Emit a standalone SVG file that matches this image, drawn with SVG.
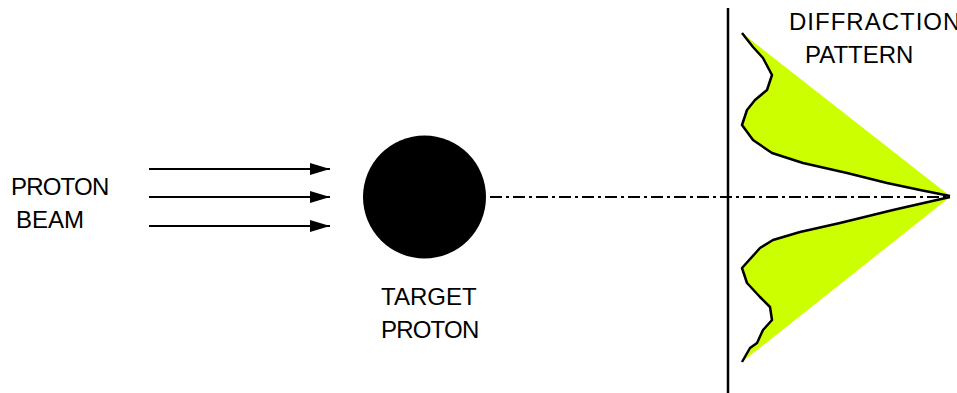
<svg xmlns="http://www.w3.org/2000/svg" width="957" height="393" viewBox="0 0 957 393">
  <defs>
    <marker id="head" viewBox="0 0 20 12" refX="20" refY="6" markerWidth="20" markerHeight="12" markerUnits="userSpaceOnUse" orient="auto">
      <path d="M0,0 L20,6 L0,12 Z" fill="#000"/>
    </marker>
    <style>
      .lbl { font-family: "Liberation Sans", Arial, sans-serif; font-size: 24px; fill: #000; }
      .tight { letter-spacing: -0.8px; }
      .wide { letter-spacing: 1px; }
      .beam { stroke: #000; stroke-width: 2; fill: none; marker-end: url(#head); }
      .lobe { fill: #ccff00; stroke: none; }
      .edge { fill: none; stroke: #000; stroke-width: 2.5; stroke-linejoin: round; }
    </style>
  </defs>
  <rect width="957" height="393" fill="#fff"/>

  <!-- incoming beam -->
  <g id="beam">
    <text class="lbl tight" x="11" y="195">PROTON</text>
    <text class="lbl" x="16" y="228">BEAM</text>
  </g>

  <g id="connectors">
    <line class="beam" x1="149" y1="169" x2="330" y2="169"/>
    <line class="beam" x1="149" y1="197" x2="330" y2="197"/>
    <line class="beam" x1="149" y1="226" x2="330" y2="226"/>
    <!-- beam axis -->
    <line x1="490" y1="197" x2="950" y2="197" stroke="#000" stroke-width="2" stroke-dasharray="12,4,3,4"/>
  </g>

  <!-- target -->
  <g id="target">
    <circle cx="424.5" cy="197" r="61.5" fill="#000"/>
    <text class="lbl" x="381" y="305">TARGET</text>
    <text class="lbl tight" x="381" y="338">PROTON</text>
  </g>

  <!-- screen and pattern -->
  <g id="screen">
    <line x1="728" y1="8" x2="728" y2="393" stroke="#000" stroke-width="2.5"/>
  </g>

  <g id="pattern">
    <path class="lobe" d="M742,33 L753,47 L763,58 L772,75 L767,90 L755,100 L747,110 L742,125 L753,140 L772,153 L803,163 L847,173 L887,183 L920,190 L950,196 Z"/>
    <path class="edge" d="M742,33 L753,47 L763,58 L772,75 L767,90 L755,100 L747,110 L742,125 L753,140 L772,153 L803,163 L847,173 L887,183 L920,190 L950,196"/>
    <path class="lobe" d="M950,197 L893,210 L840,223 L800,232 L773,240 L760,248 L742,268 L747,283 L760,297 L770,307 L772,320 L763,330 L757,343 L750,348 L742,362 Z"/>
    <path class="edge" d="M950,197 L893,210 L840,223 L800,232 L773,240 L760,248 L742,268 L747,283 L760,297 L770,307 L772,320 L763,330 L757,343 L750,348 L742,362"/>
    <text class="lbl wide" x="789" y="30">DIFFRACTION</text>
    <text class="lbl" x="805" y="63">PATTERN</text>
  </g>
</svg>
